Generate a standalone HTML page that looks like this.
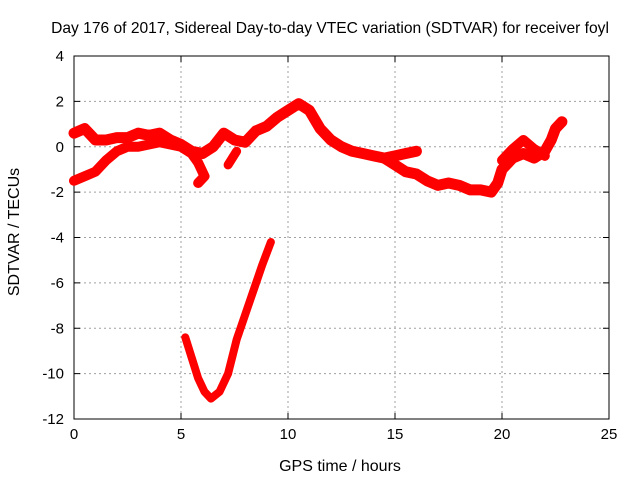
<!DOCTYPE html>
<html><head><meta charset="utf-8"><style>
html,body{margin:0;padding:0;background:#fff}
svg{display:block;font-family:"Liberation Sans",sans-serif}
</style></head><body>
<svg id="chart" width="640" height="480" xmlns="http://www.w3.org/2000/svg"></svg>
<script>
const xTicks=[0,5,10,15,20,25];
const yTicks=[4,2,0,-2,-4,-6,-8,-10,-12];
const seriesUpperH=[0,0.5,1,1.5,2,2.5,3,3.5,4,4.5,5,5.5,6,6.5,7,7.5,8,8.5,9,9.5,10,10.5,11,11.5,12,12.5,13,13.5,14,14.5,15,15.5,16];
const seriesUpperV=[0.6,0.8,0.3,0.3,0.4,0.4,0.6,0.5,0.6,0.3,0.1,-0.2,-0.3,0,0.6,0.3,0.2,0.7,0.9,1.3,1.6,1.9,1.6,0.8,0.3,0,-0.2,-0.3,-0.4,-0.5,-0.4,-0.3,-0.2];
const seriesLowerH=[0,0.5,1,1.5,2,2.5,3,3.5,4,4.5,5,5.5,5.8,6.1,5.8];
const seriesLowerV=[-1.5,-1.3,-1.1,-0.6,-0.2,0,0,0.1,0.2,0.1,0,-0.3,-0.7,-1.3,-1.6];
const seriesLateH=[14.5,15,15.5,16,16.5,17,17.5,18,18.5,19,19.5,19.8,20,20.5,21,21.5,22,22.3,22.5,22.8];
const seriesLateV=[-0.5,-0.8,-1.1,-1.2,-1.5,-1.7,-1.6,-1.7,-1.9,-1.9,-2.0,-1.6,-1.0,-0.5,-0.3,-0.5,-0.2,0.3,0.8,1.1];
const seriesExtraH=[20,20.5,21,21.5,22];
const seriesExtraV=[-0.6,-0.1,0.3,-0.1,-0.4];
const seriesShortH=[7.2,7.6];
const seriesShortV=[-0.8,-0.2];
const seriesDipH=[5.2,5.5,5.8,6.1,6.4,6.8,7.2,7.6,8,8.4,8.8,9.2];
const seriesDipV=[-8.4,-9.3,-10.2,-10.8,-11.1,-10.8,-10,-8.5,-7.4,-6.3,-5.2,-4.2];

const L=74,R=609,T=56,B=419;
const xs=h=>L+(h/25)*(R-L);
const ys=v=>T+(4-v)/16*(B-T);
const svg=document.getElementById('chart');
const NS='http://www.w3.org/2000/svg';
function mk(tag,attrs){const e=document.createElementNS(NS,tag);for(const k in attrs)e.setAttribute(k,attrs[k]);svg.appendChild(e);return e;}

xTicks.forEach(t=>{
  const x=xs(t);
  if(t>0&&t<25){const g=mk('line',{x1:x,y1:T,x2:x,y2:B,stroke:'#a0a0a0','stroke-dasharray':'2,3'});
  
  }
  mk('line',{x1:x,y1:B,x2:x,y2:B-6,stroke:'#000'});
  mk('line',{x1:x,y1:T,x2:x,y2:T+6,stroke:'#000'});
  const tx=mk('text',{x:x,y:B+20,'text-anchor':'middle','font-size':15});
  tx.textContent=t;
  
  
});
yTicks.forEach(t=>{
  const y=ys(t);
  if(t<4&&t>-12){const g=mk('line',{x1:L,y1:y,x2:R,y2:y,stroke:'#a0a0a0','stroke-dasharray':'2,3'});
  
  }
  mk('line',{x1:L,y1:y,x2:L+6,y2:y,stroke:'#000'});
  mk('line',{x1:R,y1:y,x2:R-6,y2:y,stroke:'#000'});
  const tx=mk('text',{x:L-10,y:y+5,'text-anchor':'end','font-size':15});
  tx.textContent=t;
  
  
});
const frame=mk('rect',{x:L,y:T,width:R-L,height:B-T,fill:'none',stroke:'#000'});



function series(H,V,name,w){
  const p=mk('polyline',{points:H.map((h,i)=>xs(h)+','+ys(V[i])).join(' '),fill:'none',stroke:'#ff0000','stroke-width':w,'stroke-linejoin':'round','stroke-linecap':'round'});
  
  
}
series(seriesUpperH,seriesUpperV,'series-upper',11);
series(seriesLowerH,seriesLowerV,'series-lower',10);
series(seriesLateH,seriesLateV,'series-late',11);
series(seriesExtraH,seriesExtraV,'series-extra',10);
series(seriesShortH,seriesShortV,'series-short',9);
series(seriesDipH,seriesDipV,'series-dip',8);

const title=mk('text',{x:330,y:33,'text-anchor':'middle','font-size':15.6});
title.textContent='Day 176 of 2017, Sidereal Day-to-day VTEC variation (SDTVAR) for receiver foyl';


const xt=mk('text',{x:340,y:471,'text-anchor':'middle','font-size':16});
xt.textContent='GPS time / hours';


const yt=mk('text',{x:19,y:232,'text-anchor':'middle','font-size':16,transform:'rotate(-90 19 232)'});
yt.textContent='SDTVAR / TECUs';


</script>
</body></html>
